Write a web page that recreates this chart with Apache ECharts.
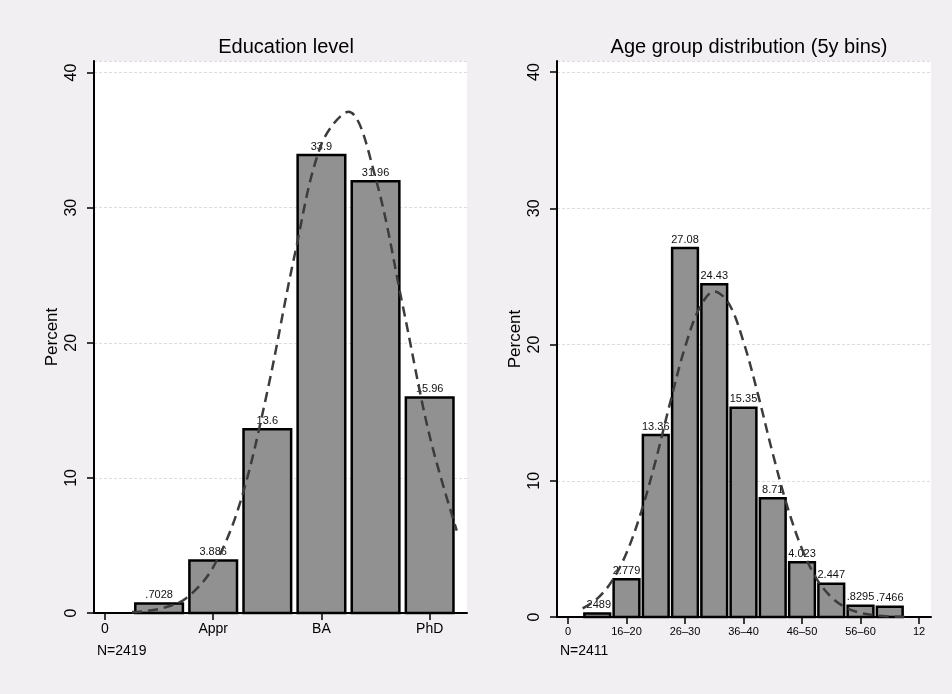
<!DOCTYPE html>
<html>
<head>
<meta charset="utf-8">
<script src="https://cdn.jsdelivr.net/npm/echarts@6.0.0/dist/echarts.min.js"></script>
<style>
  html, body { margin: 0; padding: 0; background: #f1eff1; }
  #main { width: 952px; height: 694px; }
</style>
</head>
<body>
<div id="main"></div>
<script>
// education level histogram
var eduPos = [1, 2, 3, 4, 5, 6];
var eduPct = [0.7028, 3.886, 13.6, 33.9, 31.96, 15.96];
var eduTickValues = [0, 2, 4, 6];
var eduTickLabels = ['0', 'Appr', 'BA', 'PhD'];
var eduCurveX = [0.5, 1, 1.5, 2, 2.5, 3, 3.5, 4, 4.5, 5, 5.5, 6, 6.5];
var eduCurveY = [0.07, 0.3, 1.1, 3.4, 8.2, 16.4, 26.4, 34.7, 37.1, 32.2, 22.8, 13.1, 6.1];

// age group histogram (5y bins)
var ageBins = [1, 2, 3, 4, 5, 6, 7, 8, 9, 10, 11];
var agePct = [0.2489, 2.779, 13.36, 27.08, 24.43, 15.35, 8.71, 4.023, 2.447, 0.8295, 0.7466];
var ageTickValues = [0, 2, 4, 6, 8, 10, 12];
var ageTickLabels = ['0', '16\u201320', '26\u201330', '36\u201340', '46\u201350', '56\u201360', '12'];
var ageCurveX = [0.5, 1, 1.5, 2, 2.5, 3, 3.5, 4, 4.5, 5, 5.5, 6, 6.5, 7, 7.5, 8, 8.5, 9, 9.5, 10, 10.5, 11, 11.5];
var ageCurveY = [0.63, 1.35, 2.63, 4.7, 7.7, 11.5, 15.8, 19.8, 22.7, 23.9, 23.0, 20.2, 16.3, 12.0, 8.1, 5.0, 2.8, 1.46, 0.69, 0.3, 0.12, 0.04, 0.01];

var FONT = '"Liberation Sans", Arial, Helvetica, sans-serif';

function zip(a, b) {
  return a.map(function (v, i) { return [v, b[i]]; });
}
// stata style: .7028 instead of 0.7028
function fmt(v) {
  return String(v).replace(/^0\./, '.');
}

function barRender(params, api) {
  var x = api.value(0), y = api.value(1);
  var p0 = api.coord([x - 0.44, y]);
  var p1 = api.coord([x + 0.44, 0]);
  return {
    type: 'group',
    children: [
      {
        type: 'rect',
        shape: { x: p0[0], y: p0[1], width: p1[0] - p0[0], height: p1[1] - p0[1] },
        style: { fill: '#919191', stroke: '#000', lineWidth: 2.5 }
      },
      {
        type: 'text',
        x: (p0[0] + p1[0]) / 2,
        y: p0[1] - 3,
        style: {
          text: fmt(y), textAlign: 'center', textVerticalAlign: 'bottom',
          fontSize: 11, fontFamily: FONT, fill: '#111'
        }
      }
    ]
  };
}

function yAxisOpt(idx, max) {
  return {
    gridIndex: idx,
    type: 'value',
    min: 0,
    max: max,
    interval: 10,
    name: 'Percent',
    nameLocation: 'middle',
    nameGap: 33,
    nameTextStyle: { fontSize: 17, fontFamily: FONT, color: '#000' },
    axisLine: { show: true, onZero: false, lineStyle: { color: '#000', width: 2 } },
    axisTick: { show: true, length: 7, lineStyle: { color: '#000', width: 1.5 } },
    axisLabel: { rotate: 90, margin: 14, fontSize: 16, fontFamily: FONT, color: '#000' },
    splitLine: { show: true, lineStyle: { color: '#e0dcdc', width: 1, type: [3, 2] } }
  };
}

function xAxisOpt(idx, min, max, ticks, labels, fs) {
  return {
    gridIndex: idx,
    type: 'value',
    min: min,
    max: max,
    axisLine: { show: true, onZero: false, lineStyle: { color: '#000', width: 2 } },
    axisTick: { show: true, length: 7, customValues: ticks, lineStyle: { color: '#000', width: 1.5 } },
    axisLabel: {
      customValues: ticks, margin: 9, fontSize: fs, fontFamily: FONT, color: '#000',
      formatter: function (v) {
        var i = ticks.indexOf(Math.round(v));
        return i >= 0 ? labels[i] : '';
      }
    },
    splitLine: { show: false }
  };
}

var chart = echarts.init(document.getElementById('main'));
chart.setOption({
  backgroundColor: '#f1eff1',
  animation: false,
  title: [
    { text: 'Education level', left: 281, top: 32, textAlign: 'center',
      textStyle: { fontSize: 20, fontWeight: 'normal', fontFamily: FONT, color: '#000' } },
    { text: 'Age group distribution (5y bins)', left: 744, top: 32, textAlign: 'center',
      textStyle: { fontSize: 20, fontWeight: 'normal', fontFamily: FONT, color: '#000' } }
  ],
  grid: [
    { left: 94, top: 61, width: 373, height: 552, show: true, backgroundColor: '#fff', borderWidth: 0 },
    { left: 557, top: 61, width: 374, height: 556, show: true, backgroundColor: '#fff', borderWidth: 0 }
  ],
  xAxis: [
    xAxisOpt(0, -0.203, 6.69, eduTickValues, eduTickLabels, 14),
    xAxisOpt(1, -0.376, 12.41, ageTickValues, ageTickLabels, 11)
  ],
  yAxis: [
    yAxisOpt(0, 40.86),
    yAxisOpt(1, 40.81)
  ],
  graphic: [
    { type: 'text', left: 97, top: 644, style: { text: 'N=2419', fontSize: 14, fontFamily: FONT, fill: '#000' } },
    { type: 'text', left: 560, top: 644, style: { text: 'N=2411', fontSize: 14, fontFamily: FONT, fill: '#000' } }
  ],
  series: [
    { type: 'custom', xAxisIndex: 0, yAxisIndex: 0, renderItem: barRender, data: zip(eduPos, eduPct), z: 2 },
    { type: 'line', xAxisIndex: 0, yAxisIndex: 0, data: zip(eduCurveX, eduCurveY), smooth: 0.35,
      showSymbol: false, z: 3, lineStyle: { color: '#3c3c3c', width: 2.5, type: [10, 6] } },
    { type: 'custom', xAxisIndex: 1, yAxisIndex: 1, renderItem: barRender, data: zip(ageBins, agePct), z: 2 },
    { type: 'line', xAxisIndex: 1, yAxisIndex: 1, data: zip(ageCurveX, ageCurveY), smooth: 0.35,
      showSymbol: false, z: 3, lineStyle: { color: '#3c3c3c', width: 2.5, type: [10, 6] } }
  ]
});
</script>
</body>
</html>
